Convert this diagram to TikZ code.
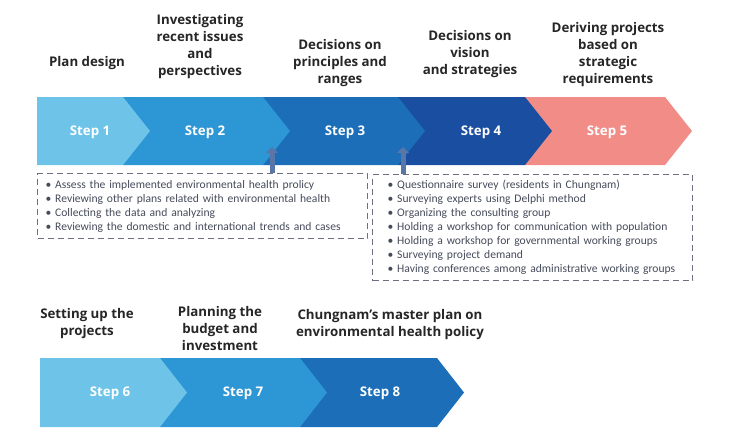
\documentclass[tikz,border=0pt]{standalone}
\usepackage{fontspec}
\usepackage{tikz}
\usetikzlibrary{arrows.meta}
\newfontfamily\headfont{Open Sans}
\newfontfamily\listfont{Carlito}
\definecolor{stepa}{RGB}{110,196,232}
\definecolor{stepb}{RGB}{45,150,212}
\definecolor{stepc}{RGB}{28,110,184}
\definecolor{stepd}{RGB}{26,78,160}
\definecolor{stepe}{RGB}{241,140,135}
\definecolor{boxline}{RGB}{110,110,130}
\definecolor{boxtext}{RGB}{70,75,90}
\definecolor{arrowfill}{RGB}{88,118,168}
\tikzset{
  head/.style={font=\headfont\bfseries\fontsize{13.3}{17}\selectfont, align=center, text=black!85},
  steplabel/.style={font=\headfont\bfseries\fontsize{13.3}{15}\selectfont, text=white},
  listbox/.style={draw=boxline, dash pattern=on 6pt off 4pt, line width=1.1pt, align=left, anchor=north west,
    font=\listfont\fontsize{11.6}{14}\selectfont, text=boxtext},
  uparrow/.style={draw=arrowfill, line width=5pt, -{Triangle[width=12pt,length=6pt]}}
}
\begin{document}
\begin{tikzpicture}[x=1pt,y=-1pt]
\useasboundingbox (0,0) rectangle (738,432);
\foreach \xa/\xb/\c in {525/665/stepe,398/525/stepd,263/398/stepc,123/263/stepb,37/123/stepa}
  \fill[\c] (\xa,97) -- (\xb,97) -- (\xb+27,131) -- (\xb,165) -- (\xa,165) -- cycle;
\foreach \xa/\xb/\c in {300/437/stepc,160/300/stepb,40/160/stepa}
  \fill[\c] (\xa,358) -- (\xb,358) -- (\xb+27,392.5) -- (\xb,427) -- (\xa,427) -- cycle;

\node[steplabel] (s1) at (90,132) {Step 1};
\node[steplabel] (s2) at (205,132) {Step 2};
\node[steplabel] (s3) at (345,132) {Step 3};
\node[steplabel] (s4) at (481,132) {Step 4};
\node[steplabel] (s5) at (607,132) {Step 5};
\node[steplabel] (s6) at (110,393) {Step 6};
\node[steplabel] (s7) at (243,393) {Step 7};
\node[steplabel] (s8) at (380,393) {Step 8};

\node[head] (h1) at (87,63) {Plan design};
\node[head] (h2) at (200,47) {Investigating\\recent issues\\and\\perspectives};
\node[head] (h3) at (340,63) {Decisions on\\principles and\\ranges};
\node[head] (h4) at (470,54) {Decisions on\\vision\\and strategies};
\node[head] (h5) at (608,55) {Deriving projects\\based on\\strategic\\requirements};
\node[head] (h6) at (87,324) {Setting up the\\projects};
\node[head] (h7) at (220,329) {Planning the\\budget and\\investment};
\node[head] (h8) at (390,325) {Chungnam’s master plan on\\environmental health policy};

\node[listbox, inner xsep=8pt, text width=314pt, minimum height=65pt] (box1) at (37,173)
  {\textbullet\ Assess the implemented environmental health prolicy\\
   \textbullet\ Reviewing other plans related with environmental health\\
   \textbullet\ Collecting the data and analyzing\\
   \textbullet\ Reviewing the domestic and international trends and cases};
\node[listbox, inner xsep=15pt, text width=290pt, minimum height=106pt] (box2) at (372,174)
  {\textbullet\ Questionnaire survey (residents in Chungnam)\\
   \textbullet\ Surveying experts using Delphi method\\
   \textbullet\ Organizing the consulting group\\
   \textbullet\ Holding a workshop for communication with population\\
   \textbullet\ Holding a workshop for governmental working groups\\
   \textbullet\ Surveying project demand\\
   \textbullet\ Having conferences among administrative working groups};

\coordinate (t1) at (272,147);
\coordinate (t2) at (403,147);
\draw[uparrow] (box1.north -| t1) -- (t1);
\draw[uparrow] (box2.north -| t2) -- (t2);
\end{tikzpicture}
\end{document}
